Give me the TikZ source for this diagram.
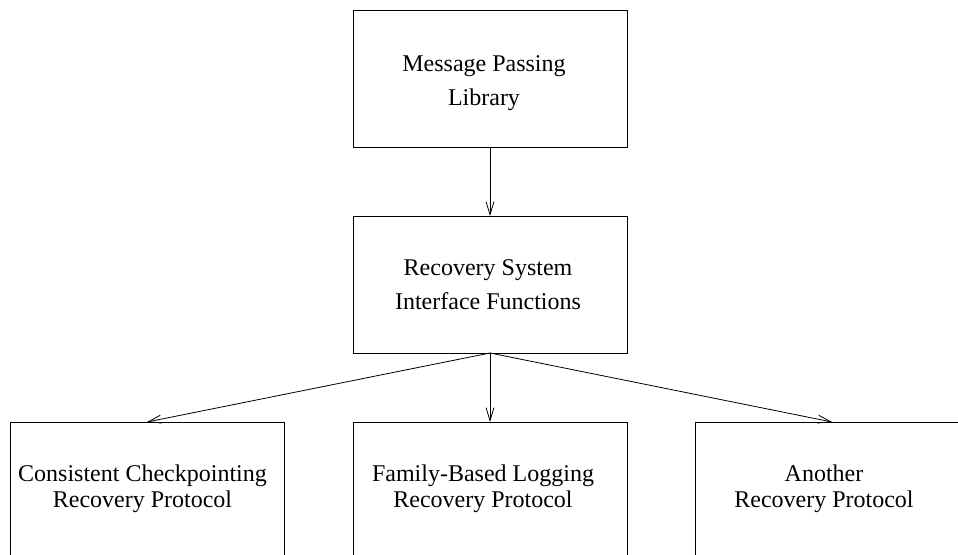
\documentclass[tikz,border=0pt]{standalone}
\usepackage{fontspec}
\setmainfont{Liberation Serif}
\usetikzlibrary{arrows.meta}
\begin{document}
\begin{tikzpicture}[x=1pt,y=-1pt,
  box/.style={draw, line width=0.8pt, minimum width=274pt, minimum height=137pt, inner sep=0pt, outer sep=0pt},
  lbl/.style={align=center, font=\fontsize{24}{34}\selectfont, inner sep=0pt},
  lblb/.style={align=center, font=\fontsize{24}{26.5}\selectfont, inner sep=0pt},
  link/.style={draw, line width=0.8pt, -{Straight Barb[length=13pt,width=8pt]}}]
\useasboundingbox (0,0) rectangle (958,554);
\clip (0,0) rectangle (958,554);

% boxes
\node[box] (mpl) at (490,78.5) {};
\node[box] (rsi) at (490,284.5) {};
\node[box] (ccp) at (147,490.5) {};
\node[box] (fbl) at (490,490.5) {};
\node[box] (arp) at (832,490.5) {};

% labels
\node[lbl] (mplt) at (484,83) {Message Passing\\Library};
\node[lbl] (rsit) at (488,284.5) {Recovery System\\Interface Functions};
\node[lblb] (ccpt) at (142.5,489) {Consistent Checkpointing\\Recovery Protocol};
\node[lblb] (fblt) at (483,489) {Family-Based Logging\\Recovery Protocol};
\node[lblb] (arpt) at (824,489) {Another\\Recovery Protocol};

% connectors
\draw[link] (mpl.south) -- (rsi.north);
\draw[link] (rsi.south) -- (ccp.north);
\draw[link] (rsi.south) -- (fbl.north);
\draw[link] (rsi.south) -- (arp.north);
\end{tikzpicture}
\end{document}
